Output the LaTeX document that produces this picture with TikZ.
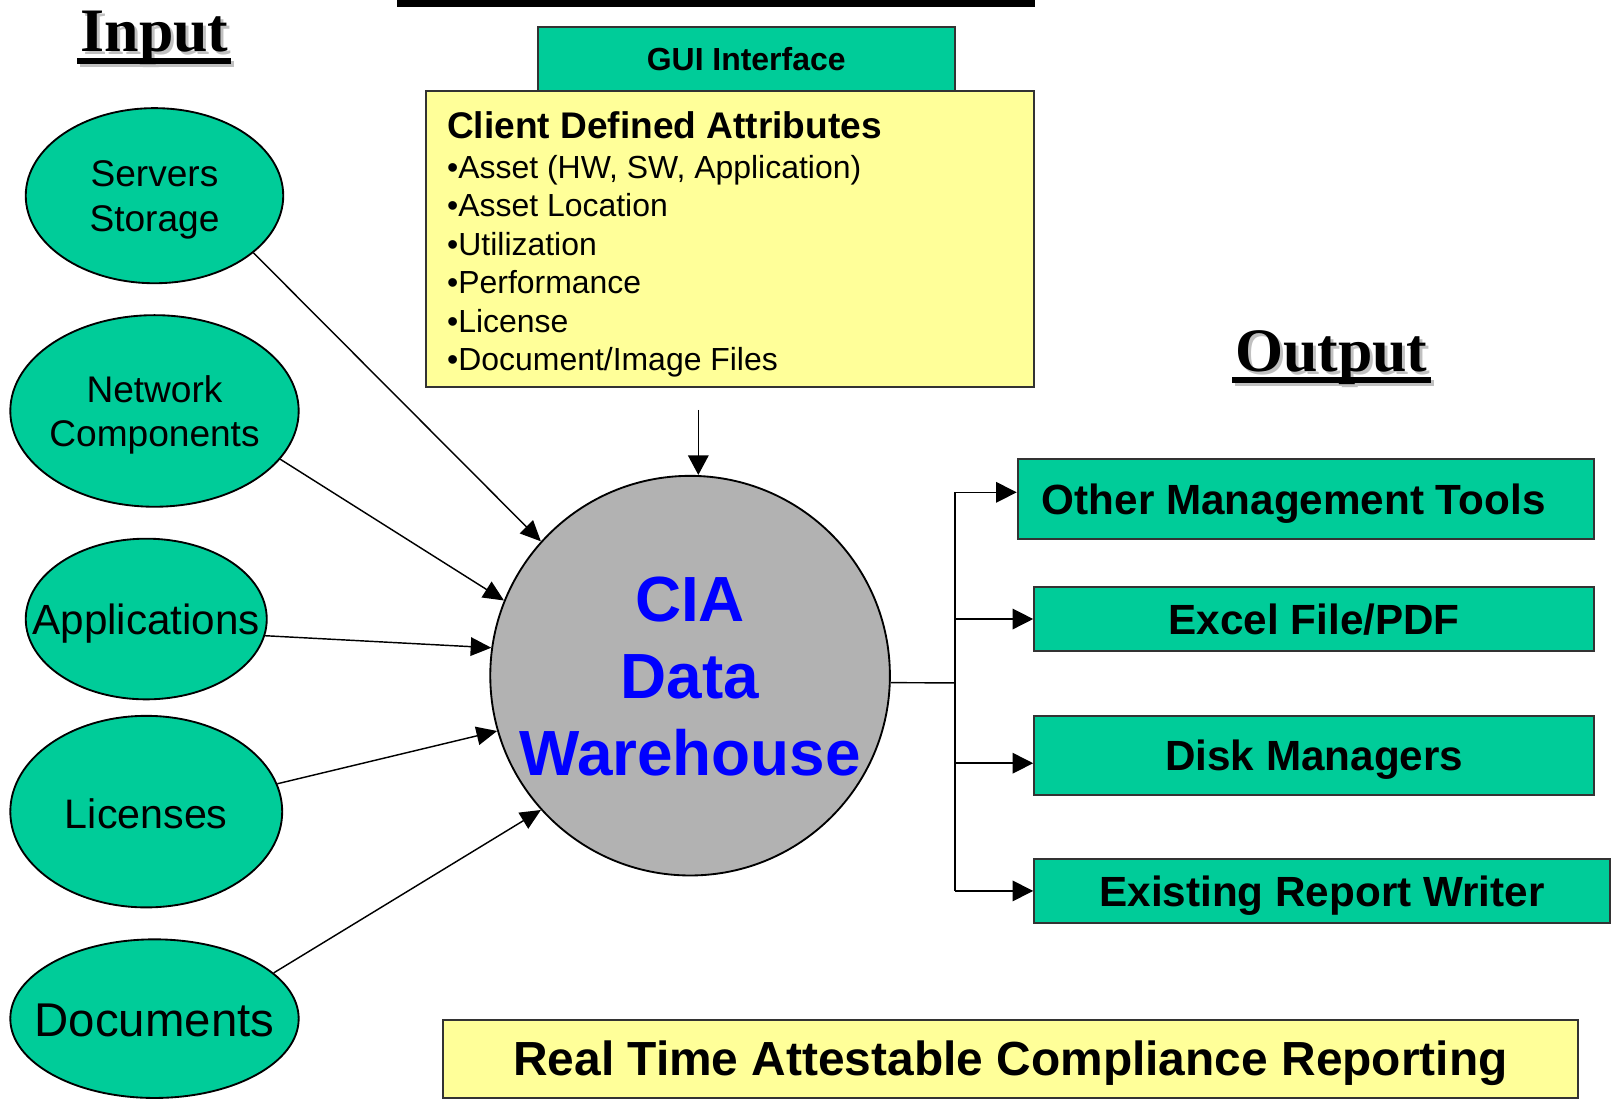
\documentclass[tikz,border=0pt]{standalone}
\usepackage{fontspec}
\setmainfont{Liberation Sans}
\newfontfamily\headserif{Liberation Serif}
\usetikzlibrary{shapes.geometric,arrows.meta,calc}
\definecolor{tealfill}{HTML}{00CC99}
\definecolor{yellowfill}{HTML}{FFFF99}
\definecolor{cgrey}{HTML}{B2B2B2}
\definecolor{cblue}{HTML}{0000FF}
\definecolor{shadowgrey}{HTML}{C0C0C0}
\newcommand\myfs[2]{\fontsize{#1}{#2}\selectfont}
\begin{document}
\begin{tikzpicture}[x=1pt,y=-1pt,
  ell/.style={ellipse,draw=black,line width=1.8pt,fill=tealfill,inner sep=0pt},
  elltext/.style={align=center,inner sep=0pt},
  outbox/.style={rectangle,draw=black!80,line width=1.8pt,fill=tealfill,inner sep=0pt,
     font=\bfseries\myfs{41}{49},text height=29.4pt,text depth=0pt},
  arr/.style={line width=1.4pt,-{Triangle[length=20pt,width=18pt]}},
  outarr/.style={line width=1.4pt,-{Triangle[length=20pt,width=20pt]}},
  heading/.style={anchor=base,inner sep=0pt,font=\headserif\bfseries\myfs{60}{72}},
  itemtext/.style={anchor=base west,inner sep=0pt,font=\myfs{31}{37}}]
\useasboundingbox (0,0) rectangle (1568,1067);

% top bar
\fill[black] (385,0) rectangle (1005,7);

% headings with shadow
\node[heading,text=shadowgrey] (inputsh) at (153,53) {Input};
\fill[shadowgrey] (78,59) rectangle (227,65);
\node[heading] (input) at (150,50) {Input};
\fill[black] (75,56) rectangle (224,62);

\node[heading,text=shadowgrey] (outputsh) at (1295.5,364) {Output};
\fill[shadowgrey] (1199,369) rectangle (1392,375);
\node[heading] (output) at (1292.5,361) {Output};
\fill[black] (1196,366) rectangle (1389,372);

% GUI + attributes box
\node[rectangle,draw=black!80,line width=1.8pt,fill=tealfill,minimum width=405pt,minimum height=62pt,
  inner sep=0pt,font=\bfseries\myfs{31}{37}] (gui) at (724.5,57) {GUI Interface};
\node[rectangle,draw=black!80,line width=1.8pt,fill=yellowfill,minimum width=590pt,minimum height=288pt,
  inner sep=0pt] (attr) at (709,232) {};
\node[anchor=base west,inner sep=0pt,font=\bfseries\myfs{36}{43}] (cdtitle) at (434,134) {Client Defined Attributes};
\foreach \t [count=\i] in {{Asset (HW, SW, Application)},{Asset Location},{Utilization},{Performance},{License},{Document/Image Files}}
  \node[itemtext] (item\i) at (434,{173+(\i-1)*37.4}) {•\t};

% central warehouse
\node[circle,draw=black,line width=1.8pt,fill=cgrey,minimum size=388pt,inner sep=0pt] (cia) at (670,656) {};
\node[align=center,inner sep=0pt,text=cblue,font=\bfseries\myfs{62}{75}] (ciatext) at (670,657) {CIA\\Data\\Warehouse};

% input ellipses
\node[ell,minimum width=250pt,minimum height=170pt] (serv) at (150,190) {};
\node[elltext,font=\myfs{36}{43}] (servt) at (150,194) {Servers\\Storage};
\node[ell,minimum width=280pt,minimum height=186pt] (netw) at (150,399) {};
\node[elltext,font=\myfs{36}{43}] (netwt) at (150,403) {Network\\Components};
\node[ell,minimum width=234pt,minimum height=156pt] (appl) at (142,601) {};
\node[elltext,font=\myfs{41}{49}] (applt) at (142,605) {Applications};
\node[ell,minimum width=264pt,minimum height=186pt] (lic) at (142,788) {};
\node[elltext,font=\myfs{40}{48}] (lict) at (142,790) {Licenses};
\node[ell,minimum width=280pt,minimum height=154pt] (docs) at (150,989) {};
\node[elltext,font=\myfs{46}{55}] (docst) at (150,991) {Documents};

% input arrows
\draw[arr] (serv.-30) -- (cia.138);
\draw[arr] (netw.-21) -- (cia.158.5);
\draw[arr] (appl.-8) -- (cia.172.7);
\draw[arr] (lic.12) -- (cia.196.7);
\draw[arr] (docs.21.3) -- (cia.222);

% arrow from attributes into warehouse
\coordinate (cdtail) at (678,398);
\draw[arr,-{Triangle[length=19pt,width=20pt]}] (cdtail) -- (cdtail |- cia.north);

% output boxes
\node[outbox,minimum width=560pt,minimum height=77pt] (o1) at (1268,484.5) {Other Management Tools\kern24pt};
\node[outbox,minimum width=544pt,minimum height=62pt] (o2) at (1276,601) {Excel File/PDF};
\node[outbox,minimum width=544pt,minimum height=77pt] (o3) at (1276,733.5) {Disk Managers};
\node[outbox,minimum width=559pt,minimum height=62pt] (o4) at (1283.5,865) {Existing Report Writer};

% output connectors
\coordinate (bus) at (927,663);
\coordinate (j1) at (927,478);
\coordinate (j2) at (927,601);
\coordinate (j3) at (927,741);
\coordinate (j4) at (927,865);
\draw[line width=1.4pt] (cia.-2) -- (bus);
\draw[line width=1.4pt] (j1) -- (j4);
\draw[outarr] (j1) -- (j1 -| o1.west);
\draw[outarr] (j2) -- (j2 -| o2.west);
\draw[outarr] (j3) -- (j3 -| o3.west);
\draw[outarr] (j4) -- (j4 -| o4.west);

% bottom banner
\node[rectangle,draw=black!80,line width=1.8pt,fill=yellowfill,minimum width=1102pt,minimum height=76pt,
  inner sep=0pt,font=\bfseries\myfs{46.5}{56},text height=33.3pt,text depth=0pt] (rtacr) at (981,1028) {Real Time Attestable Compliance Reporting};
\end{tikzpicture}
\end{document}
